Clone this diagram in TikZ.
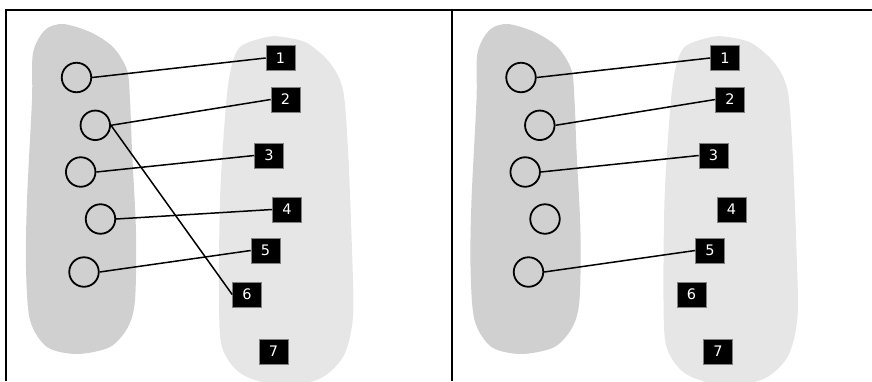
\documentclass[tikz,border=0pt]{standalone}
\usepackage{fontspec}
\setmainfont{DejaVu Sans}
\definecolor{setdark}{HTML}{D0D0D0}
\definecolor{setlight}{HTML}{E6E6E6}

\begin{document}
\begin{tikzpicture}[x=1pt,y=-1pt,
  dot/.style={circle,draw,line width=1.8pt,minimum size=29.5pt,inner sep=0pt},
  tag/.style={fill=black,draw=gray,line width=0.6pt,text=white,minimum width=29pt,
    minimum height=25pt,inner sep=0pt,font=\fontsize{14.5pt}{15pt}\selectfont},
  link/.style={line width=1.5pt}]

\useasboundingbox (0,0) rectangle (872,381);

% frame
\draw[line width=2pt] (6,381) -- (6,10) -- (872,10);
\draw[line width=2pt] (452,10) -- (452,381);

% left mapping
\fill[setdark] plot[smooth cycle] coordinates {(63,24) (90,32) (113,47) (127,70) (130,100)
  (132,150) (136,233) (135,300) (128,327) (110,347) (77,354) (47,347) (30,320) (26,267)
  (27,200) (32,100) (33,53) (45,30)};
\fill[setlight] plot[smooth cycle] coordinates {(267,37) (240,47) (230,73) (225,117)
  (220,200) (219,300) (222,347) (240,373) (273,384) (317,380) (343,357) (353,317)
  (352,250) (348,150) (343,90) (330,63) (307,43) (283,37)};

\node[dot] (dA1) at (76.5,77.5) {};
\node[dot] (dA2) at (95.3,125.3) {};
\node[dot] (dA3) at (80.7,172) {};
\node[dot] (dA4) at (100.5,219) {};
\node[dot] (dA5) at (84,272) {};

\node[tag] (cA1) at (280.5,58) {1};
\node[tag] (cA2) at (285.5,99.5) {2};
\node[tag] (cA3) at (269,155.5) {3};
\node[tag] (cA4) at (287,209.5) {4};
\node[tag] (cA5) at (265.5,250.5) {5};
\node[tag] (cA6) at (247,294.5) {6};
\node[tag] (cA7) at (273.5,351.5) {7};

\draw[link] (dA1.east) -- (cA1.west);
\draw[link] (dA2.east) -- (cA2.west);
\draw[link] (dA2.east) -- (cA6.west);
\draw[link] (dA3.east) -- (cA3.west);
\draw[link] (dA4.east) -- (cA4.west);
\draw[link] (dA5.east) -- (cA5.west);

% right mapping
\begin{scope}[shift={(444.5,0)}]
\fill[setdark] plot[smooth cycle] coordinates {(63,24) (90,32) (113,47) (127,70) (130,100)
  (132,150) (136,233) (135,300) (128,327) (110,347) (77,354) (47,347) (30,320) (26,267)
  (27,200) (32,100) (33,53) (45,30)};
\fill[setlight] plot[smooth cycle] coordinates {(267,37) (240,47) (230,73) (225,117)
  (220,200) (219,300) (222,347) (240,373) (273,384) (317,380) (343,357) (353,317)
  (352,250) (348,150) (343,90) (330,63) (307,43) (283,37)};

\node[dot] (dB1) at (76.5,77.5) {};
\node[dot] (dB2) at (95.3,125.3) {};
\node[dot] (dB3) at (80.7,172) {};
\node[dot] (dB4) at (100.5,219) {};
\node[dot] (dB5) at (84,272) {};

\node[tag] (cB1) at (280.5,58) {1};
\node[tag] (cB2) at (285.5,99.5) {2};
\node[tag] (cB3) at (269,155.5) {3};
\node[tag] (cB4) at (287,209.5) {4};
\node[tag] (cB5) at (265.5,250.5) {5};
\node[tag] (cB6) at (247,294.5) {6};
\node[tag] (cB7) at (273.5,351.5) {7};

\draw[link] (dB1.east) -- (cB1.west);
\draw[link] (dB2.east) -- (cB2.west);
\draw[link] (dB3.east) -- (cB3.west);
\draw[link] (dB5.east) -- (cB5.west);
\end{scope}
\end{tikzpicture}
\end{document}
